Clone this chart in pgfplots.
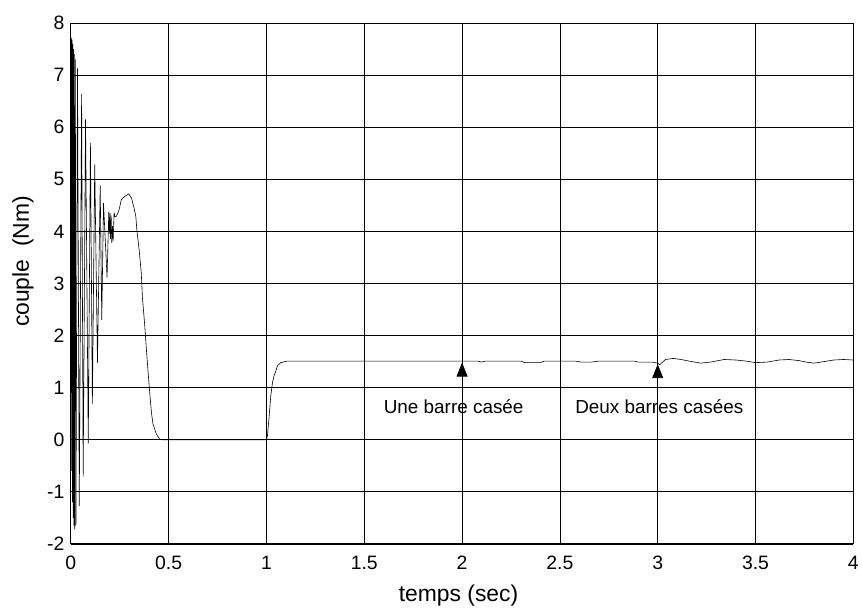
\documentclass[border=0pt]{standalone}
\usepackage{pgfplots}
\pgfplotsset{compat=1.18}
\usepackage{fontspec}
\setmainfont{Liberation Sans}
\usetikzlibrary{arrows.meta}
\begin{document}
\begin{tikzpicture}
\begin{axis}[
  scale only axis,
  width=784bp, height=522bp,
  xmin=0, xmax=4, ymin=-2, ymax=8,
  xtick={0,0.5,...,4}, ytick={-2,-1,...,8},
  xticklabels={0,0.5,1,1.5,2,2.5,3,3.5,4},
  grid=major,
  major grid style={black, line width=0.75bp},
  axis line style={black, line width=0.9bp},
  tick style={black, line width=0.75bp},
  tick align=inside,
  tick label style={font=\fontsize{19.5}{22}\selectfont},
  /pgf/number format/assume math mode=true,
  xticklabel style={yshift=-9bp},
  yticklabel style={xshift=-3bp},
  xlabel={temps (sec)},
  ylabel={couple\ \ (Nm)},
  every axis x label/.style={at={(axis description cs:0.4955,0)}, anchor=center, yshift=-52bp, font=\fontsize{23}{26}\selectfont},
  every axis y label/.style={at={(axis description cs:-0.0612,0.542)}, anchor=center, rotate=90, font=\fontsize{23}{26}\selectfont},
  clip=true,
]
\addplot[black, line width=0.6bp] coordinates {
(0,0.9) (0.002,7.72) (0.004,-0.6) (0.006,7.68) (0.008,-1.2) (0.010,7.6)
(0.012,-1.5) (0.014,7.5) (0.016,-1.65) (0.018,7.4) (0.020,-1.72) (0.023,7.3)
(0.026,-1.65) (0.034,7.13) (0.043,-1.27) (0.055,6.64) (0.063,-0.71) (0.075,6.15)
(0.089,-0.07) (0.100,5.70) (0.110,0.69) (0.122,5.28) (0.136,1.48) (0.150,4.88)
(0.158,2.30) (0.167,4.54) (0.185,3.11) (0.194,4.38) (0.197,3.95) (0.200,4.35)
(0.203,3.85) (0.206,4.30) (0.209,3.78) (0.213,4.1) (0.216,3.81) (0.221,4.35)
(0.226,4.28) (0.233,4.29) (0.240,4.35) (0.247,4.42) (0.258,4.61) (0.276,4.67)
(0.296,4.72) (0.310,4.64) (0.321,4.48) (0.332,4.29) (0.338,4.00) (0.349,3.65)
(0.360,3.20) (0.366,2.72) (0.378,2.18) (0.386,1.74) (0.395,1.29) (0.403,0.91)
(0.412,0.52) (0.420,0.30) (0.437,0.11) (0.454,0.01) (0.47,0) (1.0,0)
(1.005,0.08) (1.014,0.46) (1.022,0.84) (1.031,1.10) (1.039,1.23) (1.048,1.32)
(1.056,1.42) (1.073,1.48) (1.107,1.51) (2.0,1.51) (2.08,1.51) (2.10,1.49)
(2.12,1.51) (2.30,1.51) (2.32,1.48) (2.40,1.48) (2.42,1.51) (2.58,1.51)
(2.61,1.49) (2.66,1.49) (2.70,1.51) (2.88,1.51) (2.90,1.49) (2.97,1.49)
(3.00,1.47) (3.01,1.44) (3.04,1.54) (3.08,1.56) (3.12,1.54) (3.16,1.51)
(3.22,1.47) (3.27,1.49) (3.34,1.54) (3.40,1.53) (3.45,1.51) (3.50,1.48)
(3.56,1.49) (3.62,1.53) (3.67,1.54) (3.72,1.52) (3.76,1.49) (3.80,1.47)
(3.85,1.50) (3.90,1.53) (3.95,1.54) (4.00,1.53)
};
\draw[black, line width=0.9bp, -{Triangle[length=14bp,width=11bp]}] (axis cs:2,0.88) -- (axis cs:2,1.48);
\draw[black, line width=0.9bp, -{Triangle[length=14bp,width=11bp]}] (axis cs:3,0.88) -- (axis cs:3,1.45);
\node[anchor=base, inner sep=0pt, font=\fontsize{19}{22}\selectfont] at (axis cs:1.957,0.512) {Une barre casée};
\node[anchor=base, inner sep=0pt, font=\fontsize{19}{22}\selectfont] at (axis cs:3.008,0.512) {Deux barres casées};
\end{axis}
\path (current axis.south west) ++(-71bp,-64bp) coordinate (bbA);
\path (current axis.north east) ++(7bp,23bp) coordinate (bbB);
\path (bbA) rectangle (bbB);
\end{tikzpicture}
\end{document}
